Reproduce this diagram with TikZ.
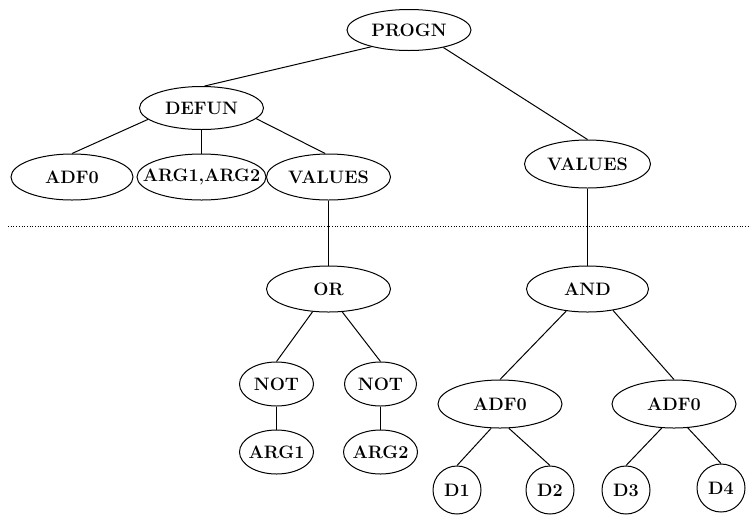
\documentclass[tikz,border=0pt]{standalone}
\usepackage{fontspec}
\usepackage{tikz}
\usetikzlibrary{shapes.geometric}

\begin{document}
\begin{tikzpicture}[x=1pt,y=1pt,
  oval/.style={ellipse,draw,line width=1pt,inner xsep=-25pt,inner ysep=0pt,
    minimum width=124,minimum height=46,font=\fontsize{18}{21}\selectfont\bfseries},
  smalloval/.style={oval,minimum width=74,minimum height=44},
  leaf/.style={circle,draw,line width=1pt,inner sep=0pt,minimum size=48,
    font=\fontsize{18}{21}\selectfont\bfseries},
  edge/.style={line width=1pt}]
  \useasboundingbox (0,0) rectangle (751,-520);
  % upper part of the tree
  \node[oval,minimum height=41] (progn) at (409,-30) {PROGN};
  \node[oval,minimum height=43] (defun) at (201.5,-108) {DEFUN};
  \node[oval,minimum width=122] (adf) at (72,-177) {ADF0};
  \node[oval,minimum width=129] (args) at (201.5,-177) {ARG1,ARG2};
  \node[oval] (valA) at (328.5,-177) {VALUES};
  \node[oval,minimum width=126,minimum height=48] (valB) at (587.5,-164) {VALUES};
  \draw[dotted,line width=0.7pt] (8,-226) -- (751,-226);
  % lower part of the tree
  \node[oval] (or) at (328.5,-289) {OR};
  \node[oval,minimum width=122] (and) at (587.5,-289) {AND};
  \node[smalloval] (notA) at (276.5,-384) {NOT};
  \node[smalloval,minimum width=72] (notB) at (380.5,-384) {NOT};
  \node[smalloval] (argA) at (276.5,-452) {ARG1};
  \node[smalloval] (argB) at (380.5,-452) {ARG2};
  \node[oval,minimum height=48] (adfA) at (500,-404) {ADF0};
  \node[oval,minimum height=48] (adfB) at (674,-404) {ADF0};
  \node[leaf] (dA) at (457,-490) {D1};
  \node[leaf] (dB) at (550,-490) {D2};
  \node[leaf] (dC) at (626,-490) {D3};
  \node[leaf] (dD) at (721,-488) {D4};
  \draw[edge] (progn.204) -- (defun.82);
  \draw[edge] (progn.333) -- (valB.north);
  \draw[edge] (defun.192) -- (adf.north);
  \draw[edge] (defun.south) -- (args.north);
  \draw[edge] (defun.349) -- (valA.98);
  \draw[edge] (valA.south) -- (or.north);
  \draw[edge] (valB.south) -- (and.north);
  \draw[edge] (or.235) -- (notA.north);
  \draw[edge] (or.301) -- (notB.north);
  \draw[edge] (notA.south) -- (argA.north);
  \draw[edge] (notB.south) -- (argB.north);
  \draw[edge] (and.226) -- (adfA.north);
  \draw[edge] (and.320) -- (adfB.north);
  \draw[edge] (adfA.250) -- (dA.north);
  \draw[edge] (adfA.290) -- (dB.north);
  \draw[edge] (adfB.243) -- (dC.north);
  \draw[edge] (adfB.300) -- (dD.north);
\end{tikzpicture}
\end{document}
